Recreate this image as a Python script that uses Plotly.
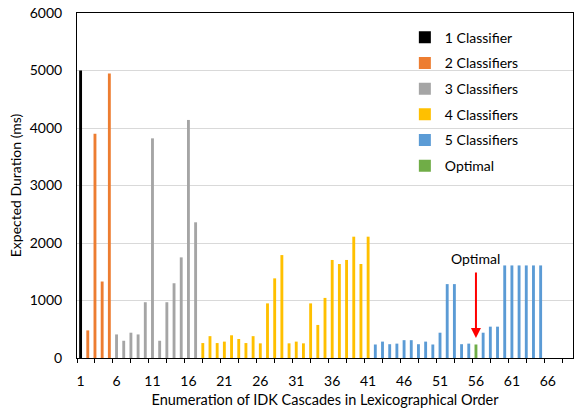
import plotly.graph_objects as go

# Expected duration (ms) of each IDK cascade, grouped by number of classifiers
one_ids = [1]
one_vals = [5000]

two_ids = [2, 3, 4, 5]
two_vals = [480, 3900, 1330, 4950]

three_ids = list(range(6, 18))
three_vals = [410, 300, 440, 410, 970, 3820, 300, 970, 1300, 1750, 4140, 2360]

four_ids = list(range(18, 42))
four_vals = [260, 380, 260, 285, 395, 330, 260, 380, 255, 950, 1385, 1790,
             255, 285, 255, 950, 575, 1045, 1705, 1635, 1705, 2110, 1635, 2110]

five_ids = [42, 43, 44, 45, 46, 47, 48, 49, 50, 51, 52, 53, 54, 55,
            57, 58, 59, 60, 61, 62, 63, 64, 65]
five_vals = [235, 285, 240, 250, 310, 310, 240, 285, 235, 440, 1285, 1285, 240, 250,
             440, 545, 545, 1610, 1610, 1610, 1610, 1610, 1610]

optimal_ids = [56]
optimal_vals = [235]

tick_ids = list(range(1, 67, 5))
tick_text = [str(v) for v in tick_ids]

FONT = "Lato, Carlito, Calibri, sans-serif"

series = [
    ("1 Classifier", one_ids, one_vals, "#000000"),
    ("2 Classifiers", two_ids, two_vals, "#ED7D31"),
    ("3 Classifiers", three_ids, three_vals, "#A5A5A5"),
    ("4 Classifiers", four_ids, four_vals, "#FFC000"),
    ("5 Classifiers", five_ids, five_vals, "#5B9BD5"),
    ("Optimal", optimal_ids, optimal_vals, "#70AD47"),
]

fig = go.Figure()
for name, ids, vals, color in series:
    fig.add_trace(go.Bar(
        x=ids, y=vals, name=name, legendgroup=name,
        marker=dict(color=color, line=dict(width=0)),
        width=0.4,
    ))

opt_x = optimal_ids[0]
opt_y = optimal_vals[0]

# red arrow pointing at the optimal cascade
fig.add_annotation(
    x=opt_x, y=opt_y + 115, ax=opt_x, ay=opt_y + 1280,
    xref="x", yref="y", axref="x", ayref="y",
    text="", showarrow=True, arrowhead=2, arrowsize=1, arrowwidth=2,
    arrowcolor="#FF0000",
)
fig.add_annotation(
    x=opt_x, y=opt_y + 1500, xref="x", yref="y",
    text="Optimal", showarrow=False,
    font=dict(family=FONT, size=14, color="#000000"),
)

fig.update_layout(
    width=575, height=412,
    margin=dict(l=77, r=2, t=13, b=54),
    paper_bgcolor="white", plot_bgcolor="white",
    barmode="overlay",
    font=dict(family=FONT, size=14, color="#000000"),
    showlegend=True,
    legend=dict(
        x=0.661, y=0.975, xanchor="left", yanchor="top",
        bgcolor="rgba(0,0,0,0)", tracegroupgap=4.5,
        font=dict(family=FONT, size=14),
    ),
    xaxis=dict(
        range=[0.5, 69.5],
        tickmode="array", tickvals=tick_ids, ticktext=tick_text,
        ticks="outside", ticklen=10, tickcolor="rgba(0,0,0,0)",
        minor=dict(tick0=0.5, dtick=2.5, ticks="outside", ticklen=4,
                   tickcolor="#000000", showgrid=False),
        showline=True, linecolor="#000000", linewidth=1, mirror=True,
        showgrid=False, zeroline=False,
        title=dict(text="Enumeration of IDK Cascades in Lexicographical Order",
                   font=dict(family=FONT, size=14.5), standoff=7),
        tickfont=dict(family=FONT, size=14),
    ),
    yaxis=dict(
        range=[0, 6000], dtick=1000,
        ticks="outside", ticklen=11, tickcolor="rgba(0,0,0,0)",
        showline=True, linecolor="#000000", linewidth=1, mirror=True,
        showgrid=True, gridcolor="#D9D9D9", gridwidth=1, zeroline=False,
        title=dict(text="Expected Duration (ms)",
                   font=dict(family=FONT, size=14), standoff=4),
        tickfont=dict(family=FONT, size=14),
    ),
)

fig.write_html("out.html")
